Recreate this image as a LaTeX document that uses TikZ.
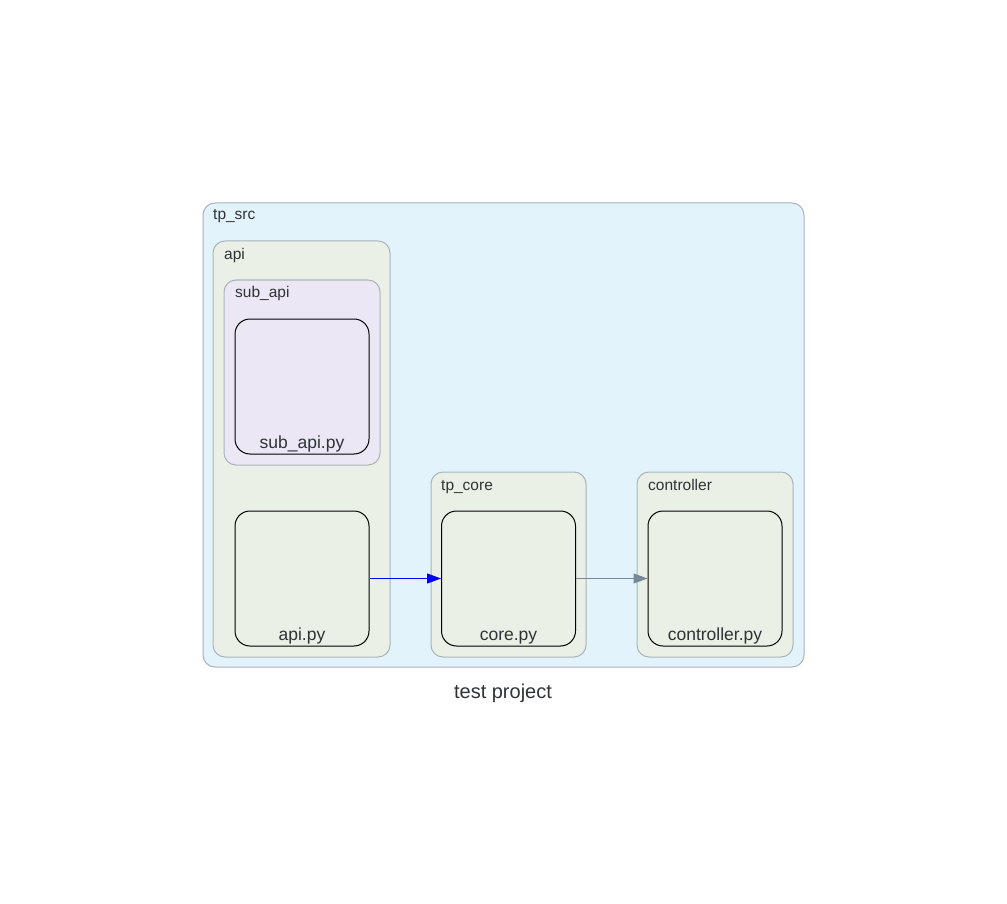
\documentclass[tikz,border=0pt]{standalone}
\usepackage{fontspec}
\setmainfont{Liberation Sans}
\usetikzlibrary{arrows.meta}
\definecolor{srcfill}{HTML}{E3F3FB}
\definecolor{greenfill}{HTML}{EAF0E5}
\definecolor{lavfill}{HTML}{ECE7F4}
\definecolor{clborder}{HTML}{A9B4BD}
\definecolor{txt}{HTML}{2F3337}
\definecolor{slate}{HTML}{778899}
\tikzset{
  cluster/.style={draw=clborder, line width=1pt, rounded corners=12pt},
  cltext/.style={anchor=base west, inner sep=0pt, text=txt, font=\fontsize{15.5}{17}\selectfont},
  filebox/.style={draw=black, line width=1pt, rounded corners=15pt, minimum width=134pt,
     inner xsep=0pt, inner ysep=2pt, text depth=4pt, text height=127pt, text=txt,
     font=\fontsize{17.5}{19}\selectfont},
  dep/.style={line width=1pt, -{Triangle[length=14pt,width=10pt]}},
}
\begin{document}
\begin{tikzpicture}[x=1pt,y=-1pt]
\useasboundingbox[fill=white] (0,0) rectangle (1007,904);
% clusters
\draw[cluster, fill=srcfill] (203,203) rectangle (804,667);
\node[cltext] (lsrc) at (213,220) {tp\_src};
\draw[cluster, fill=greenfill] (213,241) rectangle (390,657);
\node[cltext] (lapi) at (224,259) {api};
\draw[cluster, fill=lavfill] (224,280) rectangle (380,465);
\node[cltext] (lsub) at (235,298) {sub\_api};
\draw[cluster, fill=greenfill] (431,472) rectangle (586,657);
\node[cltext] (lcore) at (441,490) {tp\_core};
\draw[cluster, fill=greenfill] (637,472) rectangle (793,657);
\node[cltext] (lctrl) at (648,490) {controller};
% file nodes
\node[filebox, fill=lavfill] (subapi) at (302,386.5) {sub\_api.py};
\node[filebox, fill=greenfill] (apipy) at (302,578.5) {api.py};
\node[filebox, fill=greenfill] (corepy) at (508.5,578.5) {core.py};
\node[filebox, fill=greenfill] (ctrlpy) at (715,578.5) {controller.py};
% edges
\draw[dep, blue] (apipy.east) -- (corepy.west);
\draw[dep, slate] (corepy.east) -- (ctrlpy.west);
% title
\node[anchor=base, inner sep=0pt, text=txt, font=\fontsize{20}{22}\selectfont] (title) at (503,698) {test project};
\end{tikzpicture}
\end{document}
